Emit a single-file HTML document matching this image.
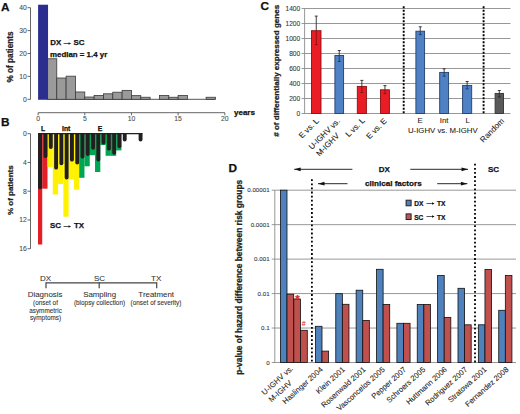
<!DOCTYPE html>
<html><head><meta charset="utf-8"><title>Figure</title>
<style>
html,body{margin:0;padding:0;background:#fff;}
body{width:520px;height:414px;overflow:hidden;}
svg{display:block;font-family:"Liberation Sans", sans-serif;}
</style></head><body>
<svg width="520" height="414" viewBox="0 0 520 414">
<rect width="520" height="414" fill="#fff"/>
<text x="0.90" y="10.80" font-size="11.8" font-weight="bold" text-anchor="start" fill="#111" stroke="#111" stroke-width="0.25" >A</text>
<line x1="30.50" y1="7.70" x2="30.50" y2="99.30" stroke="#555" stroke-width="0.9" />
<line x1="27.50" y1="99.30" x2="30.50" y2="99.30" stroke="#555" stroke-width="0.9" />
<text x="26.70" y="101.70" font-size="6.8" text-anchor="end" fill="#4a4a4a" stroke="#4a4a4a" stroke-width="0.08" >0</text>
<line x1="27.50" y1="76.40" x2="30.50" y2="76.40" stroke="#555" stroke-width="0.9" />
<text x="26.70" y="78.80" font-size="6.8" text-anchor="end" fill="#4a4a4a" stroke="#4a4a4a" stroke-width="0.08" >10</text>
<line x1="27.50" y1="53.50" x2="30.50" y2="53.50" stroke="#555" stroke-width="0.9" />
<text x="26.70" y="55.90" font-size="6.8" text-anchor="end" fill="#4a4a4a" stroke="#4a4a4a" stroke-width="0.08" >20</text>
<line x1="27.50" y1="30.60" x2="30.50" y2="30.60" stroke="#555" stroke-width="0.9" />
<text x="26.70" y="33.00" font-size="6.8" text-anchor="end" fill="#4a4a4a" stroke="#4a4a4a" stroke-width="0.08" >30</text>
<line x1="27.50" y1="7.70" x2="30.50" y2="7.70" stroke="#555" stroke-width="0.9" />
<text x="26.70" y="10.10" font-size="6.8" text-anchor="end" fill="#4a4a4a" stroke="#4a4a4a" stroke-width="0.08" >40</text>
<text transform="translate(12.60,57.00) rotate(-90)" font-size="8.2" font-weight="bold" text-anchor="middle" fill="#222" stroke="#222" stroke-width="0.25">% of patients</text>
<line x1="38.00" y1="99.30" x2="215.27" y2="99.30" stroke="#444" stroke-width="0.9" />
<rect x="47.44" y="58.77" width="9.34" height="40.53" fill="#9a9a9a" stroke="#3a3a3a" stroke-width="0.8"/>
<rect x="56.77" y="78.00" width="9.34" height="21.30" fill="#9a9a9a" stroke="#3a3a3a" stroke-width="0.8"/>
<rect x="66.11" y="76.17" width="9.34" height="23.13" fill="#9a9a9a" stroke="#3a3a3a" stroke-width="0.8"/>
<rect x="75.44" y="91.97" width="9.34" height="7.33" fill="#9a9a9a" stroke="#3a3a3a" stroke-width="0.8"/>
<rect x="84.78" y="97.01" width="9.34" height="2.29" fill="#9a9a9a" stroke="#3a3a3a" stroke-width="0.8"/>
<rect x="94.11" y="95.41" width="9.34" height="3.89" fill="#9a9a9a" stroke="#3a3a3a" stroke-width="0.8"/>
<rect x="103.44" y="93.80" width="9.34" height="5.50" fill="#9a9a9a" stroke="#3a3a3a" stroke-width="0.8"/>
<rect x="112.78" y="92.20" width="9.34" height="7.10" fill="#9a9a9a" stroke="#3a3a3a" stroke-width="0.8"/>
<rect x="122.12" y="90.37" width="9.34" height="8.93" fill="#9a9a9a" stroke="#3a3a3a" stroke-width="0.8"/>
<rect x="131.45" y="95.64" width="9.34" height="3.66" fill="#9a9a9a" stroke="#3a3a3a" stroke-width="0.8"/>
<rect x="140.78" y="97.24" width="9.34" height="2.06" fill="#9a9a9a" stroke="#3a3a3a" stroke-width="0.8"/>
<rect x="159.46" y="95.41" width="9.34" height="3.89" fill="#9a9a9a" stroke="#3a3a3a" stroke-width="0.8"/>
<rect x="168.79" y="97.24" width="9.34" height="2.06" fill="#9a9a9a" stroke="#3a3a3a" stroke-width="0.8"/>
<rect x="178.12" y="95.41" width="9.34" height="3.89" fill="#9a9a9a" stroke="#3a3a3a" stroke-width="0.8"/>
<rect x="206.13" y="97.24" width="9.34" height="2.06" fill="#9a9a9a" stroke="#3a3a3a" stroke-width="0.8"/>
<rect x="38.10" y="4.72" width="9.95" height="94.58" fill="#2b2e8f"/>
<line x1="38.10" y1="112.70" x2="224.80" y2="112.70" stroke="#555" stroke-width="0.9" />
<line x1="38.10" y1="112.70" x2="38.10" y2="115.30" stroke="#555" stroke-width="0.9" />
<text x="38.10" y="120.60" font-size="6.8" text-anchor="middle" fill="#4a4a4a" stroke="#4a4a4a" stroke-width="0.08" >0</text>
<line x1="84.78" y1="112.70" x2="84.78" y2="115.30" stroke="#555" stroke-width="0.9" />
<text x="84.78" y="120.60" font-size="6.8" text-anchor="middle" fill="#4a4a4a" stroke="#4a4a4a" stroke-width="0.08" >5</text>
<line x1="131.45" y1="112.70" x2="131.45" y2="115.30" stroke="#555" stroke-width="0.9" />
<text x="131.45" y="120.60" font-size="6.8" text-anchor="middle" fill="#4a4a4a" stroke="#4a4a4a" stroke-width="0.08" >10</text>
<line x1="178.12" y1="112.70" x2="178.12" y2="115.30" stroke="#555" stroke-width="0.9" />
<text x="178.12" y="120.60" font-size="6.8" text-anchor="middle" fill="#4a4a4a" stroke="#4a4a4a" stroke-width="0.08" >15</text>
<line x1="224.80" y1="112.70" x2="224.80" y2="115.30" stroke="#555" stroke-width="0.9" />
<text x="224.80" y="120.60" font-size="6.8" text-anchor="middle" fill="#4a4a4a" stroke="#4a4a4a" stroke-width="0.08" >20</text>
<text x="234.00" y="114.50" font-size="8.0" font-weight="bold" text-anchor="start" fill="#111" stroke="#111" stroke-width="0.25" >years</text>
<text x="50.20" y="45.40" font-size="7.9" font-weight="bold" text-anchor="start" fill="#111" stroke="#111" stroke-width="0.25" >DX</text>
<line x1="63.60" y1="43.50" x2="69.70" y2="43.50" stroke="#222" stroke-width="0.75" />
<path d="M71.20,43.50 L68.50,42.25 L68.50,44.75 Z" fill="#222"/>
<text x="73.60" y="45.40" font-size="7.9" font-weight="bold" text-anchor="start" fill="#111" stroke="#111" stroke-width="0.25" >SC</text>
<text x="50.00" y="56.60" font-size="7.9" font-weight="bold" text-anchor="start" fill="#111" stroke="#111" stroke-width="0.25" >median = 1.4 yr</text>
<text x="0.90" y="126.30" font-size="11.8" font-weight="bold" text-anchor="start" fill="#111" stroke="#111" stroke-width="0.25" >B</text>
<line x1="30.50" y1="133.70" x2="30.50" y2="248.74" stroke="#555" stroke-width="0.9" />
<line x1="27.50" y1="133.70" x2="30.50" y2="133.70" stroke="#555" stroke-width="0.9" />
<text x="26.70" y="136.10" font-size="6.8" text-anchor="end" fill="#4a4a4a" stroke="#4a4a4a" stroke-width="0.08" >0</text>
<line x1="27.50" y1="162.46" x2="30.50" y2="162.46" stroke="#555" stroke-width="0.9" />
<text x="26.70" y="164.86" font-size="6.8" text-anchor="end" fill="#4a4a4a" stroke="#4a4a4a" stroke-width="0.08" >4</text>
<line x1="27.50" y1="191.22" x2="30.50" y2="191.22" stroke="#555" stroke-width="0.9" />
<text x="26.70" y="193.62" font-size="6.8" text-anchor="end" fill="#4a4a4a" stroke="#4a4a4a" stroke-width="0.08" >8</text>
<line x1="27.50" y1="219.98" x2="30.50" y2="219.98" stroke="#555" stroke-width="0.9" />
<text x="26.70" y="222.38" font-size="6.8" text-anchor="end" fill="#4a4a4a" stroke="#4a4a4a" stroke-width="0.08" >12</text>
<line x1="27.50" y1="248.74" x2="30.50" y2="248.74" stroke="#555" stroke-width="0.9" />
<text x="26.70" y="251.14" font-size="6.8" text-anchor="end" fill="#4a4a4a" stroke="#4a4a4a" stroke-width="0.08" >16</text>
<text transform="translate(12.60,190.20) rotate(-90)" font-size="8.0" font-weight="bold" text-anchor="middle" fill="#222" stroke="#222" stroke-width="0.25">% of patients</text>
<text x="43.00" y="131.00" font-size="6.8" font-weight="bold" text-anchor="middle" fill="#111" stroke="#111" stroke-width="0.25" >L</text>
<text x="66.20" y="131.00" font-size="6.8" font-weight="bold" text-anchor="middle" fill="#111" stroke="#111" stroke-width="0.25" >Int</text>
<text x="100.10" y="131.00" font-size="6.8" font-weight="bold" text-anchor="middle" fill="#111" stroke="#111" stroke-width="0.25" >E</text>
<rect x="38.00" y="133.30" width="4.23" height="111.20" fill="#e31e26"/>
<rect x="42.23" y="133.30" width="5.28" height="55.40" fill="#e31e26"/>
<rect x="47.51" y="133.30" width="5.28" height="33.60" fill="#fff200"/>
<rect x="52.79" y="133.30" width="5.28" height="61.20" fill="#fff200"/>
<rect x="58.07" y="133.30" width="5.28" height="50.70" fill="#fff200"/>
<rect x="63.35" y="133.30" width="5.28" height="83.40" fill="#fff200"/>
<rect x="68.63" y="133.30" width="5.28" height="46.20" fill="#fff200"/>
<rect x="73.91" y="133.30" width="5.28" height="56.40" fill="#fff200"/>
<rect x="79.19" y="133.30" width="5.28" height="44.50" fill="#00a651"/>
<rect x="84.47" y="133.30" width="5.28" height="33.00" fill="#00a651"/>
<rect x="89.75" y="133.30" width="5.28" height="21.90" fill="#00a651"/>
<rect x="95.03" y="133.30" width="5.28" height="38.70" fill="#00a651"/>
<rect x="100.31" y="133.30" width="5.28" height="11.70" fill="#00a651"/>
<rect x="105.59" y="133.30" width="5.28" height="22.50" fill="#00a651"/>
<rect x="110.87" y="133.30" width="5.28" height="22.50" fill="#00a651"/>
<rect x="116.15" y="133.30" width="5.28" height="17.10" fill="#00a651"/>
<path d="M38.00,133.30 V187.25 A2.05,2.05 0 0 0 42.10,187.25 V133.30 Z" fill="#231f20"/>
<path d="M43.58,133.30 V156.15 A1.95,1.95 0 0 0 47.48,156.15 V133.30 Z" fill="#231f20"/>
<path d="M48.86,133.30 V147.05 A1.95,1.95 0 0 0 52.76,147.05 V133.30 Z" fill="#231f20"/>
<path d="M54.14,133.30 V167.65 A1.95,1.95 0 0 0 58.04,167.65 V133.30 Z" fill="#231f20"/>
<path d="M59.42,133.30 V163.35 A1.95,1.95 0 0 0 63.32,163.35 V133.30 Z" fill="#231f20"/>
<path d="M64.70,133.30 V177.55 A1.95,1.95 0 0 0 68.60,177.55 V133.30 Z" fill="#231f20"/>
<path d="M69.98,133.30 V159.65 A1.95,1.95 0 0 0 73.88,159.65 V133.30 Z" fill="#231f20"/>
<path d="M75.26,133.30 V162.45 A1.95,1.95 0 0 0 79.16,162.45 V133.30 Z" fill="#231f20"/>
<path d="M80.54,133.30 V156.65 A1.95,1.95 0 0 0 84.44,156.65 V133.30 Z" fill="#231f20"/>
<path d="M85.82,133.30 V154.05 A1.95,1.95 0 0 0 89.72,154.05 V133.30 Z" fill="#231f20"/>
<path d="M91.10,133.30 V147.85 A1.95,1.95 0 0 0 95.00,147.85 V133.30 Z" fill="#231f20"/>
<path d="M96.38,133.30 V159.45 A1.95,1.95 0 0 0 100.28,159.45 V133.30 Z" fill="#231f20"/>
<path d="M101.66,133.30 V142.55 A1.95,1.95 0 0 0 105.56,142.55 V133.30 Z" fill="#231f20"/>
<path d="M106.94,133.30 V148.65 A1.95,1.95 0 0 0 110.84,148.65 V133.30 Z" fill="#231f20"/>
<path d="M112.22,133.30 V152.85 A1.95,1.95 0 0 0 116.12,152.85 V133.30 Z" fill="#231f20"/>
<path d="M117.50,133.30 V146.15 A1.95,1.95 0 0 0 121.40,146.15 V133.30 Z" fill="#231f20"/>
<path d="M122.78,133.30 V139.55 A1.95,1.95 0 0 0 126.68,139.55 V133.30 Z" fill="#231f20"/>
<path d="M138.62,133.30 V139.55 A1.95,1.95 0 0 0 142.52,139.55 V133.30 Z" fill="#231f20"/>
<line x1="38.00" y1="133.70" x2="142.40" y2="133.70" stroke="#231f20" stroke-width="1.3" />
<text x="50.10" y="227.90" font-size="7.9" font-weight="bold" text-anchor="start" fill="#111" stroke="#111" stroke-width="0.25" >SC</text>
<line x1="63.60" y1="226.50" x2="69.70" y2="226.50" stroke="#222" stroke-width="0.75" />
<path d="M71.20,226.50 L68.50,225.25 L68.50,227.75 Z" fill="#222"/>
<text x="74.00" y="227.90" font-size="7.9" font-weight="bold" text-anchor="start" fill="#111" stroke="#111" stroke-width="0.25" >TX</text>
<line x1="46.00" y1="282.80" x2="156.70" y2="282.80" stroke="#444" stroke-width="1.2" />
<line x1="46.00" y1="282.20" x2="46.00" y2="288.20" stroke="#444" stroke-width="1.2" />
<line x1="99.20" y1="282.20" x2="99.20" y2="288.20" stroke="#444" stroke-width="1.2" />
<line x1="156.70" y1="282.20" x2="156.70" y2="288.20" stroke="#444" stroke-width="1.2" />
<text x="45.50" y="280.60" font-size="8.0" text-anchor="middle" fill="#333" stroke="#333" stroke-width="0.08" >DX</text>
<text x="99.60" y="280.60" font-size="8.0" text-anchor="middle" fill="#333" stroke="#333" stroke-width="0.08" >SC</text>
<text x="156.20" y="280.60" font-size="8.0" text-anchor="middle" fill="#333" stroke="#333" stroke-width="0.08" >TX</text>
<text x="45.10" y="297.40" font-size="7.9" text-anchor="middle" fill="#333" stroke="#333" stroke-width="0.08" >Diagnosis</text>
<text x="99.60" y="297.40" font-size="7.9" text-anchor="middle" fill="#333" stroke="#333" stroke-width="0.08" >Sampling</text>
<text x="156.20" y="297.40" font-size="7.9" text-anchor="middle" fill="#333" stroke="#333" stroke-width="0.08" >Treatment</text>
<text x="45.50" y="305.00" font-size="6.4" text-anchor="middle" fill="#333" stroke="#333" stroke-width="0.08" >(onset of</text>
<text x="45.50" y="312.60" font-size="6.4" text-anchor="middle" fill="#333" stroke="#333" stroke-width="0.08" >asymmetric</text>
<text x="45.50" y="320.20" font-size="6.4" text-anchor="middle" fill="#333" stroke="#333" stroke-width="0.08" >symptoms)</text>
<text x="99.50" y="305.00" font-size="6.4" text-anchor="middle" fill="#333" stroke="#333" stroke-width="0.08" >(biopsy collection)</text>
<text x="156.00" y="305.00" font-size="6.4" text-anchor="middle" fill="#333" stroke="#333" stroke-width="0.08" >(onset of severity)</text>
<text x="260.40" y="9.90" font-size="11.8" font-weight="bold" text-anchor="start" fill="#111" stroke="#111" stroke-width="0.25" >C</text>
<line x1="301.60" y1="113.50" x2="510.50" y2="113.50" stroke="#8c8c8c" stroke-width="0.9" />
<text x="300.20" y="115.85" font-size="6.6" text-anchor="end" fill="#333" stroke="#333" stroke-width="0.08" >0</text>
<line x1="301.60" y1="98.50" x2="510.50" y2="98.50" stroke="#8c8c8c" stroke-width="0.9" />
<text x="300.20" y="100.85" font-size="6.6" text-anchor="end" fill="#333" stroke="#333" stroke-width="0.08" >200</text>
<line x1="301.60" y1="83.50" x2="510.50" y2="83.50" stroke="#8c8c8c" stroke-width="0.9" />
<text x="300.20" y="85.85" font-size="6.6" text-anchor="end" fill="#333" stroke="#333" stroke-width="0.08" >400</text>
<line x1="301.60" y1="68.50" x2="510.50" y2="68.50" stroke="#8c8c8c" stroke-width="0.9" />
<text x="300.20" y="70.85" font-size="6.6" text-anchor="end" fill="#333" stroke="#333" stroke-width="0.08" >600</text>
<line x1="301.60" y1="53.50" x2="510.50" y2="53.50" stroke="#8c8c8c" stroke-width="0.9" />
<text x="300.20" y="55.85" font-size="6.6" text-anchor="end" fill="#333" stroke="#333" stroke-width="0.08" >800</text>
<line x1="301.60" y1="38.50" x2="510.50" y2="38.50" stroke="#8c8c8c" stroke-width="0.9" />
<text x="300.20" y="40.85" font-size="6.6" text-anchor="end" fill="#333" stroke="#333" stroke-width="0.08" >1000</text>
<line x1="301.60" y1="23.50" x2="510.50" y2="23.50" stroke="#8c8c8c" stroke-width="0.9" />
<text x="300.20" y="25.85" font-size="6.6" text-anchor="end" fill="#333" stroke="#333" stroke-width="0.08" >1200</text>
<line x1="301.60" y1="8.50" x2="510.50" y2="8.50" stroke="#8c8c8c" stroke-width="0.9" />
<text x="300.20" y="10.85" font-size="6.6" text-anchor="end" fill="#333" stroke="#333" stroke-width="0.08" >1400</text>
<line x1="304.60" y1="8.50" x2="304.60" y2="113.50" stroke="#8c8c8c" stroke-width="0.9" />
<text transform="translate(278.90,70.80) rotate(-90)" font-size="8.05" font-weight="bold" text-anchor="middle" fill="#222" stroke="#222" stroke-width="0.25"># of differentially expressed genes</text>
<rect x="311.50" y="30.70" width="9.50" height="82.80" fill="#ea1d27" stroke="#8a1010" stroke-width="0.9"/>
<line x1="316.25" y1="16.10" x2="316.25" y2="30.30" stroke="#2a2a2a" stroke-width="0.9" />
<line x1="316.25" y1="30.30" x2="316.25" y2="44.60" stroke="#7a1515" stroke-width="0.9" />
<line x1="314.75" y1="16.10" x2="317.75" y2="16.10" stroke="#2a2a2a" stroke-width="0.9" />
<line x1="314.75" y1="44.60" x2="317.75" y2="44.60" stroke="#7a1515" stroke-width="0.9" />
<rect x="334.90" y="55.50" width="8.70" height="58.00" fill="#4f81c4" stroke="#213f6e" stroke-width="0.9"/>
<line x1="339.25" y1="50.50" x2="339.25" y2="55.10" stroke="#2a2a2a" stroke-width="0.9" />
<line x1="339.25" y1="55.10" x2="339.25" y2="61.50" stroke="#1c3a66" stroke-width="0.9" />
<line x1="337.75" y1="50.50" x2="340.75" y2="50.50" stroke="#2a2a2a" stroke-width="0.9" />
<line x1="337.75" y1="61.50" x2="340.75" y2="61.50" stroke="#1c3a66" stroke-width="0.9" />
<rect x="357.30" y="86.40" width="9.10" height="27.10" fill="#ea1d27" stroke="#8a1010" stroke-width="0.9"/>
<line x1="361.85" y1="80.40" x2="361.85" y2="86.00" stroke="#2a2a2a" stroke-width="0.9" />
<line x1="361.85" y1="86.00" x2="361.85" y2="92.50" stroke="#7a1515" stroke-width="0.9" />
<line x1="360.35" y1="80.40" x2="363.35" y2="80.40" stroke="#2a2a2a" stroke-width="0.9" />
<line x1="360.35" y1="92.50" x2="363.35" y2="92.50" stroke="#7a1515" stroke-width="0.9" />
<rect x="380.50" y="89.80" width="8.90" height="23.70" fill="#ea1d27" stroke="#8a1010" stroke-width="0.9"/>
<line x1="384.95" y1="85.60" x2="384.95" y2="89.40" stroke="#2a2a2a" stroke-width="0.9" />
<line x1="384.95" y1="89.40" x2="384.95" y2="93.70" stroke="#7a1515" stroke-width="0.9" />
<line x1="383.45" y1="85.60" x2="386.45" y2="85.60" stroke="#2a2a2a" stroke-width="0.9" />
<line x1="383.45" y1="93.70" x2="386.45" y2="93.70" stroke="#7a1515" stroke-width="0.9" />
<rect x="415.90" y="31.20" width="8.70" height="82.30" fill="#4f81c4" stroke="#213f6e" stroke-width="0.9"/>
<line x1="420.25" y1="26.80" x2="420.25" y2="30.80" stroke="#2a2a2a" stroke-width="0.9" />
<line x1="420.25" y1="30.80" x2="420.25" y2="34.60" stroke="#1c3a66" stroke-width="0.9" />
<line x1="418.75" y1="26.80" x2="421.75" y2="26.80" stroke="#2a2a2a" stroke-width="0.9" />
<line x1="418.75" y1="34.60" x2="421.75" y2="34.60" stroke="#1c3a66" stroke-width="0.9" />
<rect x="439.70" y="72.40" width="8.90" height="41.10" fill="#4f81c4" stroke="#213f6e" stroke-width="0.9"/>
<line x1="444.15" y1="68.80" x2="444.15" y2="72.00" stroke="#2a2a2a" stroke-width="0.9" />
<line x1="444.15" y1="72.00" x2="444.15" y2="76.20" stroke="#1c3a66" stroke-width="0.9" />
<line x1="442.65" y1="68.80" x2="445.65" y2="68.80" stroke="#2a2a2a" stroke-width="0.9" />
<line x1="442.65" y1="76.20" x2="445.65" y2="76.20" stroke="#1c3a66" stroke-width="0.9" />
<rect x="462.60" y="85.40" width="9.10" height="28.10" fill="#4f81c4" stroke="#213f6e" stroke-width="0.9"/>
<line x1="467.15" y1="81.50" x2="467.15" y2="85.00" stroke="#2a2a2a" stroke-width="0.9" />
<line x1="467.15" y1="85.00" x2="467.15" y2="88.90" stroke="#1c3a66" stroke-width="0.9" />
<line x1="465.65" y1="81.50" x2="468.65" y2="81.50" stroke="#2a2a2a" stroke-width="0.9" />
<line x1="465.65" y1="88.90" x2="468.65" y2="88.90" stroke="#1c3a66" stroke-width="0.9" />
<rect x="495.10" y="93.40" width="8.40" height="20.10" fill="#595959" stroke="#333" stroke-width="0.9"/>
<line x1="499.30" y1="90.50" x2="499.30" y2="93.00" stroke="#2a2a2a" stroke-width="0.9" />
<line x1="499.30" y1="93.00" x2="499.30" y2="97.00" stroke="#2a2a2a" stroke-width="0.9" />
<line x1="497.80" y1="90.50" x2="500.80" y2="90.50" stroke="#2a2a2a" stroke-width="0.9" />
<line x1="497.80" y1="97.00" x2="500.80" y2="97.00" stroke="#2a2a2a" stroke-width="0.9" />
<line x1="403.70" y1="6.30" x2="403.70" y2="114.00" stroke="#000" stroke-width="1.9" stroke-dasharray="2.0,1.5"/>
<line x1="483.60" y1="6.30" x2="483.60" y2="114.00" stroke="#000" stroke-width="1.9" stroke-dasharray="2.0,1.5"/>
<text transform="translate(319.30,121.50) rotate(-45)" font-size="8.0" text-anchor="end" fill="#222" stroke="#222" stroke-width="0.08">E vs. L</text>
<text transform="translate(365.30,121.00) rotate(-45)" font-size="8.0" text-anchor="end" fill="#222" stroke="#222" stroke-width="0.08">L vs. L</text>
<text transform="translate(387.30,121.50) rotate(-45)" font-size="8.0" text-anchor="end" fill="#222" stroke="#222" stroke-width="0.08">E vs. E</text>
<text transform="translate(504.70,121.50) rotate(-45)" font-size="8.0" text-anchor="end" fill="#222" stroke="#222" stroke-width="0.08">Random</text>
<text transform="translate(340.50,121.50) rotate(-45)" font-size="8.0" fill="#222" stroke="#222" stroke-width="0.08"><tspan x="-40.45" y="0">U-IGHV vs.</tspan><tspan x="-39.85" y="10.0">M-IGHV</tspan></text>
<text x="420.20" y="123.30" font-size="7.8" text-anchor="middle" fill="#222" stroke="#222" stroke-width="0.08" >E</text>
<text x="444.10" y="123.30" font-size="7.8" text-anchor="middle" fill="#222" stroke="#222" stroke-width="0.08" >Int</text>
<text x="467.70" y="123.30" font-size="7.8" text-anchor="middle" fill="#222" stroke="#222" stroke-width="0.08" >L</text>
<text x="442.80" y="133.20" font-size="7.8" text-anchor="middle" fill="#222" stroke="#222" stroke-width="0.08" >U-IGHV vs. M-IGHV</text>
<text x="228.60" y="171.80" font-size="11.8" font-weight="bold" text-anchor="start" fill="#111" stroke="#111" stroke-width="0.25" >D</text>
<line x1="271.70" y1="190.20" x2="516.00" y2="190.20" stroke="#8c8c8c" stroke-width="0.9" />
<text x="269.60" y="192.40" font-size="6.2" text-anchor="end" fill="#333" stroke="#333" stroke-width="0.08" >0.00001</text>
<line x1="271.70" y1="224.66" x2="516.00" y2="224.66" stroke="#8c8c8c" stroke-width="0.9" />
<text x="269.60" y="226.86" font-size="6.2" text-anchor="end" fill="#333" stroke="#333" stroke-width="0.08" >0.0001</text>
<line x1="271.70" y1="259.12" x2="516.00" y2="259.12" stroke="#8c8c8c" stroke-width="0.9" />
<text x="269.60" y="261.32" font-size="6.2" text-anchor="end" fill="#333" stroke="#333" stroke-width="0.08" >0.001</text>
<line x1="271.70" y1="293.58" x2="516.00" y2="293.58" stroke="#8c8c8c" stroke-width="0.9" />
<text x="269.60" y="295.78" font-size="6.2" text-anchor="end" fill="#333" stroke="#333" stroke-width="0.08" >0.01</text>
<line x1="271.70" y1="328.04" x2="516.00" y2="328.04" stroke="#8c8c8c" stroke-width="0.9" />
<text x="269.60" y="330.24" font-size="6.2" text-anchor="end" fill="#333" stroke="#333" stroke-width="0.08" >0.1</text>
<line x1="271.70" y1="362.50" x2="516.00" y2="362.50" stroke="#8c8c8c" stroke-width="0.9" />
<text x="269.60" y="364.70" font-size="6.2" text-anchor="end" fill="#333" stroke="#333" stroke-width="0.08" >0</text>
<line x1="274.80" y1="190.20" x2="274.80" y2="362.50" stroke="#8c8c8c" stroke-width="0.9" />
<text transform="translate(242.10,277.30) rotate(-90)" font-size="8.4" font-weight="bold" text-anchor="middle" fill="#222" stroke="#222" stroke-width="0.25">p-value of hazard difference between risk groups</text>
<rect x="280.40" y="190.20" width="6.60" height="172.30" fill="#4f81bd" stroke="#111" stroke-width="0.8"/>
<rect x="287.00" y="294.20" width="6.70" height="68.30" fill="#c0504d" stroke="#111" stroke-width="0.8"/>
<rect x="293.80" y="299.00" width="6.70" height="63.50" fill="#c0504d" stroke="#111" stroke-width="0.8"/>
<rect x="300.60" y="330.30" width="6.70" height="32.20" fill="#c0504d" stroke="#111" stroke-width="0.8"/>
<text x="297.40" y="303.20" font-size="11.5" font-weight="bold" text-anchor="middle" fill="#d42a2a" stroke="#d42a2a" stroke-width="0.25" >*</text>
<text x="303.80" y="326.40" font-size="7.0" text-anchor="middle" fill="#d42a2a" stroke="#d42a2a" stroke-width="0.08" >#</text>
<rect x="315.40" y="326.30" width="6.60" height="36.20" fill="#4f81bd" stroke="#111" stroke-width="0.8"/>
<rect x="322.00" y="351.10" width="6.60" height="11.40" fill="#c0504d" stroke="#111" stroke-width="0.8"/>
<rect x="335.77" y="293.70" width="6.60" height="68.80" fill="#4f81bd" stroke="#111" stroke-width="0.8"/>
<rect x="342.37" y="304.30" width="6.60" height="58.20" fill="#c0504d" stroke="#111" stroke-width="0.8"/>
<rect x="356.14" y="290.20" width="6.60" height="72.30" fill="#4f81bd" stroke="#111" stroke-width="0.8"/>
<rect x="362.74" y="320.40" width="6.60" height="42.10" fill="#c0504d" stroke="#111" stroke-width="0.8"/>
<rect x="376.51" y="269.30" width="6.60" height="93.20" fill="#4f81bd" stroke="#111" stroke-width="0.8"/>
<rect x="383.11" y="304.40" width="6.60" height="58.10" fill="#c0504d" stroke="#111" stroke-width="0.8"/>
<rect x="396.88" y="323.30" width="6.60" height="39.20" fill="#4f81bd" stroke="#111" stroke-width="0.8"/>
<rect x="403.48" y="323.30" width="6.60" height="39.20" fill="#c0504d" stroke="#111" stroke-width="0.8"/>
<rect x="417.25" y="304.40" width="6.60" height="58.10" fill="#4f81bd" stroke="#111" stroke-width="0.8"/>
<rect x="423.85" y="304.40" width="6.60" height="58.10" fill="#c0504d" stroke="#111" stroke-width="0.8"/>
<rect x="437.62" y="275.50" width="6.60" height="87.00" fill="#4f81bd" stroke="#111" stroke-width="0.8"/>
<rect x="444.22" y="317.40" width="6.60" height="45.10" fill="#c0504d" stroke="#111" stroke-width="0.8"/>
<rect x="457.99" y="288.30" width="6.60" height="74.20" fill="#4f81bd" stroke="#111" stroke-width="0.8"/>
<rect x="464.59" y="324.80" width="6.60" height="37.70" fill="#c0504d" stroke="#111" stroke-width="0.8"/>
<rect x="478.36" y="324.80" width="6.60" height="37.70" fill="#4f81bd" stroke="#111" stroke-width="0.8"/>
<rect x="484.96" y="269.40" width="6.60" height="93.10" fill="#c0504d" stroke="#111" stroke-width="0.8"/>
<rect x="498.73" y="310.30" width="6.60" height="52.20" fill="#4f81bd" stroke="#111" stroke-width="0.8"/>
<rect x="505.33" y="275.50" width="6.60" height="87.00" fill="#c0504d" stroke="#111" stroke-width="0.8"/>
<line x1="311.90" y1="179.30" x2="311.90" y2="362.50" stroke="#000" stroke-width="1.8" stroke-dasharray="1.8,2.3"/>
<line x1="475.00" y1="163.80" x2="475.00" y2="362.50" stroke="#000" stroke-width="1.8" stroke-dasharray="1.8,2.3"/>
<line x1="294.20" y1="169.30" x2="352.40" y2="169.30" stroke="#111" stroke-width="0.9" />
<path d="M294.20,169.30 L300.70,167.40 L300.70,171.20 Z" fill="#111"/>
<line x1="410.30" y1="169.30" x2="468.00" y2="169.30" stroke="#111" stroke-width="0.9" />
<path d="M468.00,169.30 L461.50,167.40 L461.50,171.20 Z" fill="#111"/>
<line x1="318.00" y1="183.70" x2="347.50" y2="183.70" stroke="#111" stroke-width="0.9" />
<path d="M318.00,183.70 L324.50,181.80 L324.50,185.60 Z" fill="#111"/>
<line x1="437.20" y1="183.70" x2="467.40" y2="183.70" stroke="#111" stroke-width="0.9" />
<path d="M467.40,183.70 L460.90,181.80 L460.90,185.60 Z" fill="#111"/>
<text x="384.30" y="172.00" font-size="8.0" font-weight="bold" text-anchor="middle" fill="#111" stroke="#111" stroke-width="0.25" >DX</text>
<text x="393.30" y="186.30" font-size="8.1" font-weight="bold" text-anchor="middle" fill="#111" stroke="#111" stroke-width="0.25" >clinical factors</text>
<text x="493.50" y="172.00" font-size="8.0" font-weight="bold" text-anchor="middle" fill="#111" stroke="#111" stroke-width="0.25" >SC</text>
<rect x="406.10" y="200.20" width="5.00" height="5.60" fill="#5a7cab" stroke="#1c2433" stroke-width="1.0"/>
<rect x="406.10" y="213.90" width="5.00" height="5.60" fill="#b55a5a" stroke="#331c1c" stroke-width="1.0"/>
<text transform="translate(414.20,205.80) scale(0.88,1)" font-size="7.5" font-weight="bold" text-anchor="start" fill="#111" stroke="#111" stroke-width="0.25">DX</text>
<line x1="426.40" y1="203.50" x2="433.10" y2="203.50" stroke="#111" stroke-width="0.7" />
<path d="M434.60,203.50 L432.00,202.30 L432.00,204.70 Z" fill="#111"/>
<text transform="translate(437.00,205.80) scale(0.88,1)" font-size="7.5" font-weight="bold" text-anchor="start" fill="#111" stroke="#111" stroke-width="0.25">TX</text>
<text transform="translate(414.20,219.70) scale(0.88,1)" font-size="7.5" font-weight="bold" text-anchor="start" fill="#111" stroke="#111" stroke-width="0.25">SC</text>
<line x1="426.40" y1="216.50" x2="433.10" y2="216.50" stroke="#111" stroke-width="0.7" />
<path d="M434.60,216.50 L432.00,215.30 L432.00,217.70 Z" fill="#111"/>
<text transform="translate(437.00,219.70) scale(0.88,1)" font-size="7.5" font-weight="bold" text-anchor="start" fill="#111" stroke="#111" stroke-width="0.25">TX</text>
<text transform="translate(323.30,370.20) rotate(-42)" font-size="7.6" text-anchor="end" fill="#222" stroke="#222" stroke-width="0.08">Haslinger 2004</text>
<text transform="translate(345.40,370.20) rotate(-42)" font-size="7.6" text-anchor="end" fill="#222" stroke="#222" stroke-width="0.08">Klein 2001</text>
<text transform="translate(366.10,370.20) rotate(-42)" font-size="7.6" text-anchor="end" fill="#222" stroke="#222" stroke-width="0.08">Rosenwald 2001</text>
<text transform="translate(385.30,370.20) rotate(-42)" font-size="7.6" text-anchor="end" fill="#222" stroke="#222" stroke-width="0.08">Vasconcelos 2005</text>
<text transform="translate(406.70,370.20) rotate(-42)" font-size="7.6" text-anchor="end" fill="#222" stroke="#222" stroke-width="0.08">Pepper 2007</text>
<text transform="translate(425.90,370.20) rotate(-42)" font-size="7.6" text-anchor="end" fill="#222" stroke="#222" stroke-width="0.08">Schroers 2005</text>
<text transform="translate(447.50,370.20) rotate(-42)" font-size="7.6" text-anchor="end" fill="#222" stroke="#222" stroke-width="0.08">Huttmann 2006</text>
<text transform="translate(467.80,370.20) rotate(-42)" font-size="7.6" text-anchor="end" fill="#222" stroke="#222" stroke-width="0.08">Rodriguez 2007</text>
<text transform="translate(487.10,370.20) rotate(-42)" font-size="7.6" text-anchor="end" fill="#222" stroke="#222" stroke-width="0.08">Stratowa 2001</text>
<text transform="translate(509.10,370.20) rotate(-42)" font-size="7.6" text-anchor="end" fill="#222" stroke="#222" stroke-width="0.08">Fernandez 2008</text>
<text transform="translate(293.60,369.20) rotate(-42)" font-size="7.75" fill="#222" stroke="#222" stroke-width="0.08"><tspan x="-39.18" y="0">U-IGHV vs.</tspan><tspan x="-38.58" y="10.0">M-IGHV</tspan></text>
</svg>
</body></html>
